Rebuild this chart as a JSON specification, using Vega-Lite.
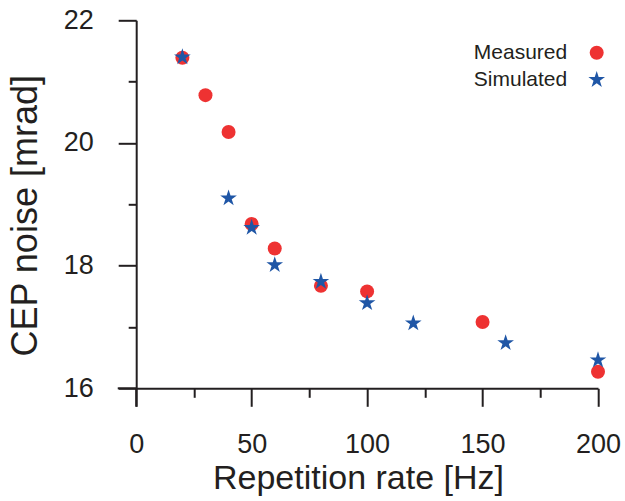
{
  "$schema": "https://vega.github.io/schema/vega-lite/v6.json",
  "width": 461.8,
  "height": 368,
  "autosize": {"type": "none"},
  "padding": {"left": 136.2, "top": 20.3, "right": 27, "bottom": 112.7},
  "background": "white",
  "config": {
    "view": {"stroke": null},
    "font": "Liberation Sans",
    "axis": {
      "grid": false,
      "domainColor": "#231f20",
      "domainWidth": 2,
      "tickColor": "#231f20",
      "tickWidth": 2,
      "labelColor": "#231f20",
      "titleColor": "#231f20",
      "labelFont": "Liberation Sans",
      "titleFont": "Liberation Sans",
      "labelFontSize": 27,
      "titleFontSize": 34,
      "titleFontWeight": "normal"
    }
  },
  "data": {
    "values": [
      {"series": "Measured", "rate": 20, "noise": 21.39},
      {"series": "Measured", "rate": 30, "noise": 20.78},
      {"series": "Measured", "rate": 40, "noise": 20.18},
      {"series": "Measured", "rate": 50, "noise": 18.68},
      {"series": "Measured", "rate": 60, "noise": 18.28},
      {"series": "Measured", "rate": 80, "noise": 17.67},
      {"series": "Measured", "rate": 100, "noise": 17.58},
      {"series": "Measured", "rate": 150, "noise": 17.08},
      {"series": "Measured", "rate": 200, "noise": 16.27},
      {"series": "Simulated", "rate": 20, "noise": 21.4},
      {"series": "Simulated", "rate": 40, "noise": 19.1},
      {"series": "Simulated", "rate": 50, "noise": 18.62},
      {"series": "Simulated", "rate": 60, "noise": 18.01},
      {"series": "Simulated", "rate": 80, "noise": 17.74},
      {"series": "Simulated", "rate": 100, "noise": 17.39},
      {"series": "Simulated", "rate": 120, "noise": 17.06},
      {"series": "Simulated", "rate": 160, "noise": 16.74},
      {"series": "Simulated", "rate": 200, "noise": 16.46}
    ]
  },
  "resolve": {"axis": {"x": "independent", "y": "independent"}},
  "layer": [
    {
      "data": {"values": [{"x1": -8, "x2": 0, "y": 16}]},
      "mark": {"type": "rule", "color": "#231f20", "strokeWidth": 2, "clip": false},
      "encoding": {
        "x": {"field": "x1", "type": "quantitative", "axis": null},
        "x2": {"field": "x2"},
        "y": {"field": "y", "type": "quantitative", "axis": null}
      }
    },
    {
      "data": {"values": [{"x": 0, "y1": 15.7, "y2": 16}]},
      "mark": {"type": "rule", "color": "#231f20", "strokeWidth": 2, "clip": false},
      "encoding": {
        "x": {"field": "x", "type": "quantitative", "axis": null},
        "y": {"field": "y1", "type": "quantitative", "axis": null},
        "y2": {"field": "y2"}
      }
    },
    {
      "mark": {"type": "point", "opacity": 0},
      "encoding": {
        "x": {
          "field": "rate",
          "type": "quantitative",
          "axis": {"orient": "bottom", "values": [25, 75, 125, 175], "labels": false, "tickSize": 9, "domain": false, "title": null}
        },
        "y": {
          "field": "noise",
          "type": "quantitative",
          "axis": {"orient": "left", "values": [17, 19, 21], "labels": false, "tickSize": 8, "domain": false, "title": null}
        }
      }
    },
    {
      "mark": {"type": "point", "filled": true, "opacity": 1, "size": 196, "clip": false},
      "encoding": {
        "x": {
          "field": "rate",
          "type": "quantitative",
          "scale": {"domain": [0, 200], "nice": false, "zero": false},
          "axis": {
            "orient": "bottom",
            "title": "Repetition rate [Hz]",
            "values": [0, 50, 100, 150, 200],
            "tickSize": 18,
            "labelPadding": 25,
            "titleFontSize": 34,
            "titleBaseline": "alphabetic",
            "titleX": 221.8,
            "titleY": 99.7,
            "labelFlush": false
          }
        },
        "y": {
          "field": "noise",
          "type": "quantitative",
          "scale": {"domain": [16, 22], "nice": false, "zero": false},
          "axis": {
            "orient": "left",
            "title": "CEP noise [mrad]",
            "values": [16, 18, 20, 22],
            "format": "d",
            "tickSize": 18,
            "labelPadding": 25,
            "titleFontSize": 36,
            "titleBaseline": "alphabetic",
            "titleX": -100.2,
            "titleY": 195,
            "labelFlush": false
          }
        },
        "color": {
          "field": "series",
          "type": "nominal",
          "scale": {"domain": ["Measured", "Simulated"], "range": ["#ee3232", "#1f56a6"]},
          "legend": {
            "title": null,
            "orient": "none",
            "legendX": 450,
            "legendY": 22,
            "labelFontSize": 21,
            "labelColor": "#231f20",
            "labelAlign": "right",
            "labelOffset": -40,
            "symbolSize": 196,
            "rowPadding": 5
          }
        },
        "shape": {
          "field": "series",
          "type": "nominal",
          "scale": {"domain": ["Measured", "Simulated"], "range": ["circle", "M0,-1.25L0.281,-0.386L1.189,-0.386L0.454,0.148L0.735,1.011L0,0.478L-0.735,1.011L-0.454,0.148L-1.189,-0.386L-0.281,-0.386Z"]}
        }
      }
    }
  ]
}
